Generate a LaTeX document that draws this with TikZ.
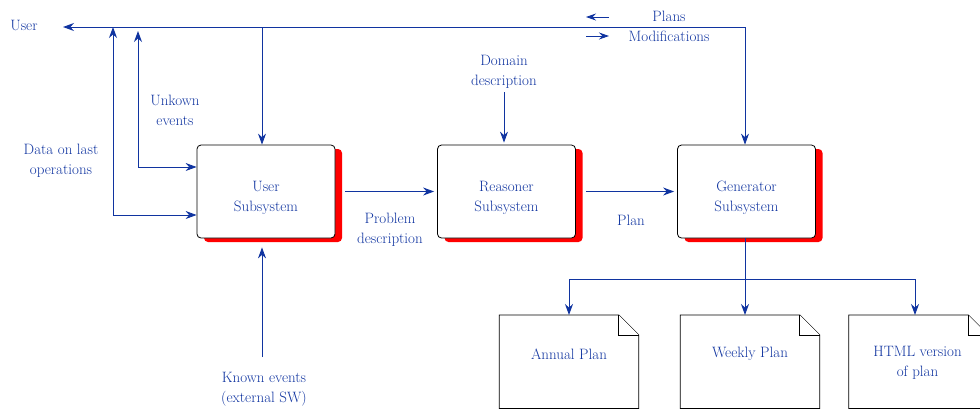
\documentclass[tikz,border=0pt]{standalone}
\usetikzlibrary{arrows.meta,shadows,calc}
\definecolor{ink}{RGB}{16,52,160}
\begin{document}
\begin{tikzpicture}[x=1pt,y=-1pt,
  font=\fontsize{15}{20}\selectfont,
  every node/.style={text=ink},
  tip/.tip={Stealth[length=11pt,width=8pt]},
  flow/.style={draw=ink, line width=0.9pt, -tip},
  flow2/.style={draw=ink, line width=0.9pt, tip-tip},
  subsys/.style={draw=black, fill=white, rounded corners=4pt, line width=0.8pt,
    minimum width=138pt, minimum height=93pt, align=center,
    drop shadow={shadow xshift=7pt, shadow yshift=-4pt, fill=red, opacity=1}},
  docbox/.style={minimum width=139pt, minimum height=93pt, inner sep=0pt},
  docline/.style={draw=black, fill=white, line width=0.8pt},
  lbl/.style={align=center}]
\useasboundingbox (0,0) rectangle (980,408);
\clip (0,0) rectangle (980,408);

% subsystems
\node[subsys] (user) at (266,191.5) {};
\node[subsys] (reas) at (506.5,191.5) {};
\node[subsys] (gen)  at (746.5,191.5) {};
\node[lbl] (usertxt) at ($(user.center)+(0,6)$) {User\\Subsystem};
\node[lbl] (reastxt) at ($(reas.center)+(0,6)$) {Reasoner\\Subsystem};
\node[lbl] (gentxt)  at ($(gen.center)+(0,6)$) {Generator\\Subsystem};

% output documents (folded corner)
\node[docbox, anchor=north] (annual) at (569,315) {};
\node[docbox, anchor=north] (weekly) at (750,315) {};
\node[docbox, anchor=north] (html)   at (918.5,315) {};
\foreach \d in {annual,weekly,html}{
  \draw[docline] (\d.north west) -- ([xshift=-20pt]\d.north east)
     -- ([yshift=-20pt]\d.north east) -- (\d.south east)
     -- (\d.south west) -- cycle;
  \draw[docline] ([xshift=-20pt]\d.north east) |- ([yshift=-20pt]\d.north east);
}
\node[lbl] (annualtxt) at ($(annual.north)+(0,39)$) {Annual Plan};
\node[lbl] (weeklytxt) at ($(weekly.north)+(0,39)$) {Weekly Plan};
\node[lbl] (htmltxt)   at ($(html.north)+(-1,48)$) {HTML version\\of plan};

% text labels
\node (usr) at (24,25) {User};
\node[lbl] (unk)  at (175,110) {Unkown\\events};
\node[lbl] (data) at (61,161) {Data on last\\operations};
\node[lbl] (prob) at (390,230) {Problem\\description};
\node[lbl] (plan) at (631,220) {Plan};
\node[lbl] (known) at (264,389) {Known events\\(external SW)};
\node[lbl] (dom) at (504,72) {Domain\\description};
\node (plans) at (669,16) {Plans};
\node (mods)  at (669,36) {Modifications};

% junction points
\coordinate (usrin) at (63,27);
\coordinate (tr) at (745,27);
\coordinate (ud) at (262,27);
\coordinate (dtop) at (113,27);
\coordinate (dbot) at (113,215);
\coordinate (etop) at (138,31);
\coordinate (ebot) at (138,167);
\coordinate (kst) at (262,357);
\coordinate (gb) at (745,279);
\coordinate (gl) at (569,279);
\coordinate (gr) at (915,279);
\coordinate (la1) at (609,17);
\coordinate (la2) at (586,17);
\coordinate (lb1) at (586,36);
\coordinate (lb2) at (609,36);

% connectors
\draw[flow2] (usrin) -- (tr) -- (gen.north -| tr);
\draw[flow] (ud) -- (user.north -| ud);
\draw[flow2] (dtop) -- (dbot) -- (dbot -| user.west);
\draw[flow2] (etop) -- (ebot) -- (ebot -| user.west);
\draw[flow, shorten >=9pt] (kst) -- (user.south -| kst);
\draw[flow, shorten <=10pt, shorten >=3pt] (user.east) -- (reas.west);
\draw[flow, shorten <=10pt, shorten >=3pt] (reas.east) -- (gen.west);
\draw[flow, shorten >=2pt] (dom.south) -- (reas.north -| dom.south);
\draw[flow] (gen.south -| gb) -- (weekly.north -| gb);
\draw[flow] (gb) -- (gl) -- (gl |- annual.north);
\draw[flow] (gb) -- (gr) -- (gr |- html.north);

% legend arrows
\draw[flow, -{Stealth[length=10pt,width=7pt]}] (la1) -- (la2);
\draw[flow, -{Stealth[length=10pt,width=7pt]}] (lb1) -- (lb2);
\end{tikzpicture}
\end{document}
